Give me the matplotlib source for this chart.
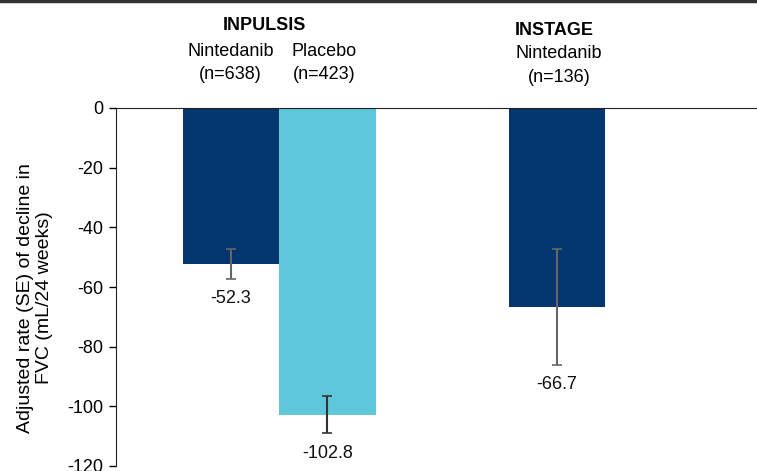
import matplotlib
matplotlib.use("Agg")
import matplotlib.pyplot as plt
from matplotlib.lines import Line2D

plt.rcParams["font.family"] = ["Liberation Sans", "DejaVu Sans"]

# ── Data ──────────────────────────────────────────────────────────────────────
bar_pos    = [0.0, 1.0, 3.38]
values     = [-52.3, -102.8, -66.7]
se         = [5.0, 6.3, 19.5]
bar_colors = ["#03356F", "#5FC7DA", "#03356F"]
err_colors = ["#666666", "#333333", "#666666"]
value_text = ["-52.3", "-102.8", "-66.7"]

studies    = ["INPULSIS", "INSTAGE"]
study_x    = [0.35, 3.35]
study_y    = [27.8, 26.1]
arm_labels = ["Nintedanib\n(n=638)", "Placebo\n(n=423)", "Nintedanib\n(n=136)"]
arm_x      = [-0.005, 0.97, 3.40]
arm_y      = [15.1, 15.1, 14.2]

yticks = [0, -20, -40, -60, -80, -100, -120]

# ── Figure ────────────────────────────────────────────────────────────────────
fig = plt.figure(figsize=(7.57, 4.71), dpi=100)
ax = fig.add_axes([116 / 757, 1 - 466 / 471, 641 / 757, 358 / 471])

ax.bar(bar_pos, values, width=1.0, color=bar_colors, zorder=2)
for x, v, s, c, t in zip(bar_pos, values, se, err_colors, value_text):
    ax.errorbar(x, v, yerr=s, fmt="none", ecolor=c, elinewidth=1.5,
                capsize=3.5, capthick=1.2, zorder=3)
    ax.annotate(t, xy=(x, v - s), xytext=(0, -8), textcoords="offset points",
                ha="center", va="top", fontsize=13, color="#111111")

ax.set_xlim(-1.19, 5.45)
ax.set_ylim(-120, 0)
ax.set_yticks(yticks)
ax.set_yticklabels([str(t) for t in yticks], fontsize=13)
ax.set_xticks([])
ax.tick_params(axis="y", direction="out", length=5, width=1, pad=4)

for side in ["right", "bottom"]:
    ax.spines[side].set_visible(False)
ax.spines["top"].set_color("#222222")
ax.spines["left"].set_color("#222222")

ax.set_ylabel("Adjusted rate (SE) of decline in\nFVC (mL/24 weeks)",
              fontsize=14, linespacing=1.15)
ax.yaxis.set_label_coords(-0.098, 0.47)

# Study / arm headers above the bars
for s, x, y in zip(studies, study_x, study_y):
    ax.text(x, y, s, ha="center", va="center", fontsize=13,
            fontweight="bold", clip_on=False)
for s, x, y in zip(arm_labels, arm_x, arm_y):
    ax.text(x, y, s, ha="center", va="center", fontsize=13,
            linespacing=1.5, clip_on=False)

# Thin border along the top of the slide
fig.add_artist(Line2D([0, 1], [0.997, 0.997], color="#333333", linewidth=2.5,
                      transform=fig.transFigure))

fig.savefig("out.png", dpi=100)
